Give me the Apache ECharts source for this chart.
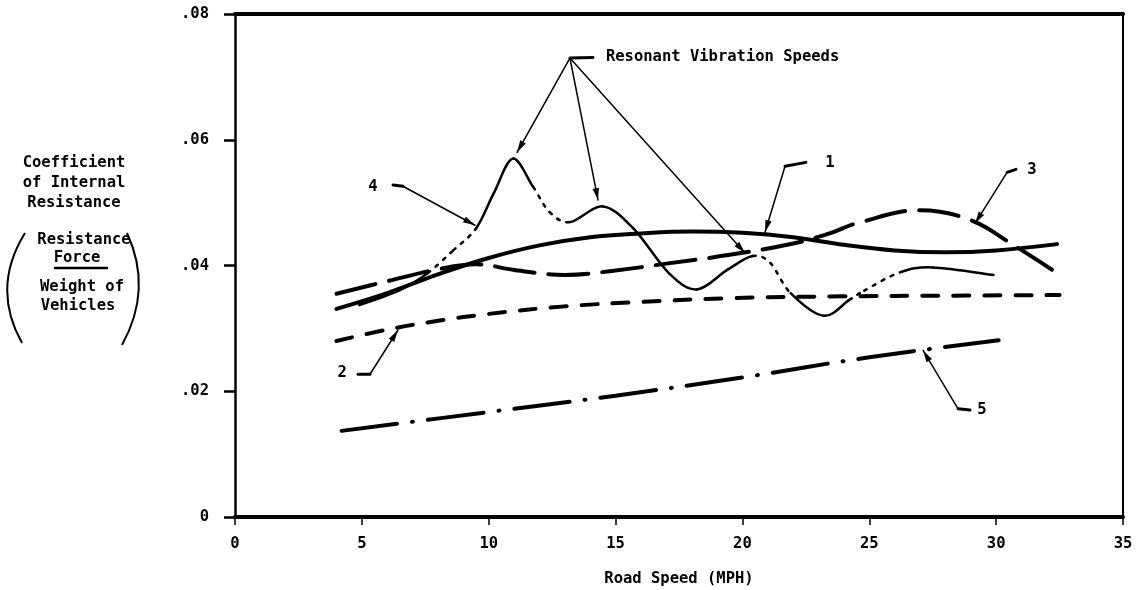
<!DOCTYPE html>
<html>
<head>
<meta charset="utf-8">
<title>Coefficient of Internal Resistance vs Road Speed</title>
<script src="https://cdn.jsdelivr.net/npm/echarts@6/dist/echarts.min.js"></script>
<style>
  html, body { margin: 0; padding: 0; background: #fff; }
  #chart { width: 1140px; height: 590px; }
</style>
</head>
<body>
<div id="chart"></div>
<script>
// [road speed MPH, coefficient]
const curve1 = [[4, 0.0331], [6, 0.0356], [8, 0.0386], [10, 0.0412], [12, 0.0432], [14, 0.0445],
  [16, 0.0451], [18, 0.0454], [20, 0.0452], [22, 0.0445], [24, 0.0433], [26, 0.0424],
  [28, 0.0421], [30, 0.0424], [32.4, 0.0434]];
const curve2 = [[4, 0.0280], [6, 0.0298], [8, 0.0312], [10, 0.0323], [13, 0.0335], [16, 0.0342],
  [19.5, 0.0348], [24, 0.0351], [28, 0.0352], [32.5, 0.0353]];
const curve3 = [[4, 0.0355], [6, 0.0375], [8, 0.0394], [9.5, 0.0402], [11, 0.0393], [13, 0.0385],
  [15, 0.0392], [17, 0.0403], [19.5, 0.0417], [22, 0.0435], [23.5, 0.0452], [24.5, 0.0467],
  [27, 0.0488], [29, 0.0472], [30.7, 0.0432], [32.4, 0.0388]];
const curve4 = [[4.9, 0.0337], [6.5, 0.0361], [7.6, 0.0388], [8.6, 0.0424], [9.5, 0.0459],
  [10.2, 0.0515], [10.95, 0.0570], [11.75, 0.0525], [12.4, 0.0485], [13.2, 0.0469],
  [14.5, 0.0494], [15.7, 0.0459], [17.1, 0.0388], [18.2, 0.0362], [19.4, 0.0393],
  [20.4, 0.0415], [21.1, 0.0404], [21.9, 0.0356], [23.2, 0.0320], [24.2, 0.0345],
  [24.8, 0.0360], [26.2, 0.0389], [27.5, 0.0397], [29.9, 0.0385]];
const curve5 = [[4.2, 0.0137], [10, 0.0167], [15, 0.0193], [20, 0.0222], [25, 0.0254], [30.1, 0.0281]];

// stretches of curve 4 drawn dotted: [first index, last index]
const curve4Dotted = [[2, 4], [7, 9], [15, 17], [19, 21]];

const yTitle = ['Coefficient', 'of Internal', 'Resistance'];
const ratioTop = ['Resistance', 'Force'];
const ratioBottom = ['Weight of', 'Vehicles'];
const xTitle = 'Road Speed (MPH)';
const noteTitle = 'Resonant Vibration Speeds';

const FONT = 'DejaVu Sans Mono';
const FONT_SIZE = 15.5;

// callouts: label, where the label sits, leader path (arrow at the last point)
const callouts = [
  { text: '1', at: [23.45, 0.0563], path: [[22.5, 0.0564], [21.68, 0.0558], [20.89, 0.0453]] },
  { text: '2', at: [4.22, 0.0229], path: [[4.85, 0.0227], [5.32, 0.0227], [6.42, 0.0297]] },
  { text: '3', at: [31.41, 0.0552], path: [[30.78, 0.0553], [30.43, 0.0548], [29.17, 0.0467]] },
  { text: '4', at: [5.44, 0.0525], path: [[6.23, 0.0528], [6.62, 0.0526], [9.46, 0.0464]] },
  { text: '5', at: [29.44, 0.0170], path: [[28.97, 0.0170], [28.5, 0.0172], [27.12, 0.0265]] }
];
const hub = [13.2, 0.0730];
const hubHook = [14.11, 0.0731];
const hubTextAt = [14.62, 0.0731];
const hubTargets = [[11.12, 0.0580], [14.31, 0.0504], [20.1, 0.0420]];

function curve(data, width, dash) {
  return {
    type: 'line',
    data: data,
    smooth: 0.4,
    symbol: 'none',
    silent: true,
    lineStyle: { color: '#000', width: width, type: dash, cap: 'round' }
  };
}

function isDotted(i) {
  return curve4Dotted.some(function (r) { return i >= r[0] && i < r[1]; });
}

// curve 4 switches between solid and dotted; draw it as one spline, piece by piece
const curve4Series = {
  type: 'custom',
  data: curve4,
  silent: true,
  encode: { x: 0, y: 1 },
  renderItem: function (params, api) {
    const i = params.dataIndex;
    const n = curve4.length;
    if (i >= n - 1) return null;
    const pt = function (k) { return api.coord(curve4[Math.max(0, Math.min(n - 1, k))]); };
    const p0 = pt(i - 1), p1 = pt(i), p2 = pt(i + 1), p3 = pt(i + 2);
    const k = 1 / 6;
    const dotted = isDotted(i);
    return {
      type: 'bezierCurve',
      shape: {
        x1: p1[0], y1: p1[1], x2: p2[0], y2: p2[1],
        cpx1: p1[0] + (p2[0] - p0[0]) * k, cpy1: p1[1] + (p2[1] - p0[1]) * k,
        cpx2: p2[0] - (p3[0] - p1[0]) * k, cpy2: p2[1] - (p3[1] - p1[1]) * k
      },
      style: {
        stroke: '#000', fill: null, lineWidth: 2.5, lineCap: 'round',
        lineDash: dotted ? [3, 7] : null
      }
    };
  }
};

const series = [
  curve(curve1, 4, 'solid'),
  curve(curve2, 4, [16, 15]),
  curve(curve3, 4, [40, 14]),
  curve(curve5, 4, [56, 15, 1, 15]),
  curve4Series
];

const labelStyle = { color: '#000', fontFamily: FONT, fontWeight: 'bold', fontSize: FONT_SIZE };

const option = {
  animation: false,
  backgroundColor: '#fff',
  grid: { left: 235, right: 17, top: 14, bottom: 73, containLabel: false, outerBoundsMode: 'none' },
  xAxis: [{
    type: 'value', min: 0, max: 35, interval: 5, position: 'bottom',
    name: xTitle, nameLocation: 'middle', nameGap: 54,
    nameTextStyle: labelStyle,
    axisLine: { onZero: false, lineStyle: { color: '#000', width: 4 } },
    axisTick: { inside: false, length: 8, lineStyle: { color: '#000', width: 1.5 } },
    axisLabel: Object.assign({ margin: 19 }, labelStyle),
    splitLine: { show: false }
  }, {
    type: 'value', min: 0, max: 35, position: 'top',
    axisLine: { onZero: false, lineStyle: { color: '#000', width: 4 } },
    axisTick: { show: false }, axisLabel: { show: false }, splitLine: { show: false }
  }],
  yAxis: [{
    type: 'value', min: 0, max: 0.08, interval: 0.02, position: 'left',
    axisLine: { show: true, onZero: false, lineStyle: { color: '#000', width: 2.5 } },
    axisTick: { show: true, length: 11, lineStyle: { color: '#000', width: 2.5 } },
    axisLabel: Object.assign({
      margin: 26,
      formatter: function (v) { return v === 0 ? '0' : v.toFixed(2).replace(/^0/, ''); }
    }, labelStyle),
    splitLine: { show: false }
  }, {
    type: 'value', min: 0, max: 0.08, position: 'right',
    axisLine: { show: true, onZero: false, lineStyle: { color: '#000', width: 2 } },
    axisTick: { show: false }, axisLabel: { show: false }, splitLine: { show: false }
  }],
  series: series
};

const chart = echarts.init(document.getElementById('chart'));
chart.setOption(option);

const toPx = function (p) { return chart.convertToPixel({ gridIndex: 0 }, p); };

function arrowHead(tip, from) {
  const dx = tip[0] - from[0], dy = tip[1] - from[1];
  const len = Math.hypot(dx, dy);
  const ux = dx / len, uy = dy / len;
  const bx = tip[0] - ux * 12, by = tip[1] - uy * 12;
  return {
    type: 'polygon', silent: true,
    shape: { points: [tip, [bx - uy * 3.2, by + ux * 3.2], [bx + uy * 3.2, by - ux * 3.2]] },
    style: { fill: '#000' }
  };
}

function line(points, width) {
  return {
    type: 'polyline', silent: true,
    shape: { points: points },
    style: { stroke: '#000', lineWidth: width, fill: null, lineCap: 'round', lineJoin: 'round' }
  };
}

function text(str, x, y, align) {
  return {
    type: 'text', silent: true, x: x, y: y,
    style: {
      text: str, fill: '#000', font: 'bold ' + FONT_SIZE + 'px "' + FONT + '"',
      align: align || 'center', verticalAlign: 'middle'
    }
  };
}

const graphics = [];

callouts.forEach(function (c) {
  const pts = c.path.map(toPx);
  graphics.push(line(pts.slice(0, 2), 3));
  graphics.push(line(pts.slice(1), 1.5));
  graphics.push(arrowHead(pts[pts.length - 1], pts[pts.length - 2]));
  const t = toPx(c.at);
  graphics.push(text(c.text, t[0], t[1]));
});

const hubPx = toPx(hub);
graphics.push(line([hubPx, toPx(hubHook)], 3));
const hubText = toPx(hubTextAt);
graphics.push(text(noteTitle, hubText[0], hubText[1], 'left'));
hubTargets.forEach(function (t) {
  const tp = toPx(t);
  graphics.push(line([hubPx, tp], 1.5));
  graphics.push(arrowHead(tp, hubPx));
});

// y-axis title block on the left
yTitle.forEach(function (s, i) { graphics.push(text(s, 74, 163 + i * 20)); });
graphics.push(text(ratioTop[0], 84, 240));
graphics.push(text(ratioTop[1], 77, 258));
graphics.push(line([[55, 268], [107, 268]], 2.5));
graphics.push(text(ratioBottom[0], 82, 287));
graphics.push(text(ratioBottom[1], 78, 306));
graphics.push({
  type: 'bezierCurve', silent: true,
  shape: { x1: 25, y1: 233, x2: 22, y2: 343, cpx1: -9, cpy1: 288 },
  style: { stroke: '#000', lineWidth: 2, fill: null }
});
graphics.push({
  type: 'bezierCurve', silent: true,
  shape: { x1: 127, y1: 233, x2: 122, y2: 345, cpx1: 153, cpy1: 289 },
  style: { stroke: '#000', lineWidth: 2, fill: null }
});

chart.setOption({ graphic: graphics });
</script>
</body>
</html>
